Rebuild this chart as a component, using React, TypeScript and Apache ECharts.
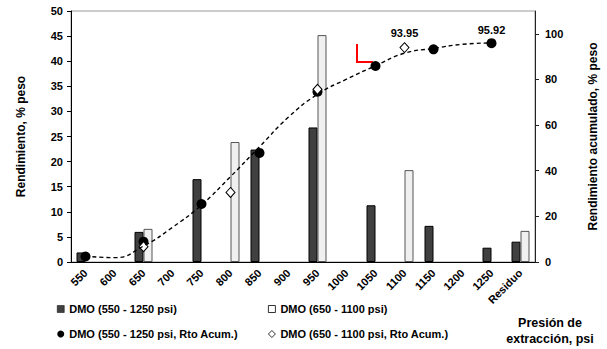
import { useEffect, useRef } from 'react';
import * as echarts from 'echarts';

const categories = ['550', '600', '650', '700', '750', '800', '850', '900', '950', '1000', '1050', '1100', '1150', '1200', '1250', 'Residuo'];
const darkYield = [1.9, null, 6.0, null, 16.5, null, 22.4, null, 26.8, null, 11.3, null, 7.2, null, 2.85, 4.05];
const lightYield = [null, null, 6.6, null, null, 23.9, null, null, 45.2, null, null, 18.3, null, null, null, 6.2];
const darkCum = [2.4, null, 8.9, null, 25.4, null, 47.8, null, 74.6, null, 85.9, null, 93.2, null, 95.92, null];
const lightCum = [null, null, 6.7, null, null, 30.5, null, null, 75.7, null, null, 93.95, null, null, null, null];
const trend = [2.6, 1.9, 7.0, 15.2, 25.0, 37.4, 50.5, 63.5, 73.5, 80.1, 86.0, 91.5, 93.6, 95.4, 96.0, null];
const darkLabelIndex = 14;
const lightLabelIndex = 11;

const names = {
  darkBar: 'DMO (550 - 1250 psi)',
  lightBar: 'DMO (650 - 1100 psi)',
  darkCum: 'DMO (550 - 1250 psi, Rto Acum.)',
  lightCum: 'DMO (650 - 1100 psi, Rto Acum.)',
};
const leftAxisName = 'Rendimiento, % peso';
const rightAxisName = 'Rendimiento acumulado, % peso';
const xAxisTitle = 'Presión de\nextracción, psi';

const FONT = 'Arial, "Liberation Sans", sans-serif';

export default function App() {
  const ref = useRef<HTMLDivElement>(null);
  useEffect(() => {
    if (!ref.current) return;
    const chart = echarts.init(ref.current, null, { renderer: 'svg' });
    const labelStyle = { show: true, position: 'top', distance: 3, formatter: '{c}', color: '#000', fontWeight: 'bold', fontSize: 11, fontFamily: FONT };
    const legendText = { color: '#000', fontWeight: 'bold', fontSize: 11, fontFamily: FONT, lineHeight: 14 };
    chart.setOption({
      animation: false,
      backgroundColor: '#fff',
      textStyle: { fontFamily: FONT },
      grid: { left: 71, right: 54, top: 11, bottom: 87, show: true, borderColor: '#999', borderWidth: 1, backgroundColor: 'transparent' },
      legend: [
        {
          orient: 'vertical', left: 57, top: 302, height: 45, padding: 0, itemWidth: 7, itemHeight: 7, itemGap: 11,
          textStyle: legendText,
          data: [
            { name: names.darkBar, icon: 'rect', itemStyle: { color: '#404040', borderColor: '#000', borderWidth: 0.5 } },
            { name: names.darkCum, icon: 'circle', itemStyle: { color: '#000' } },
          ],
        },
        {
          orient: 'vertical', left: 268, top: 302, height: 45, padding: 0, itemWidth: 7, itemHeight: 7, itemGap: 11,
          textStyle: legendText,
          data: [
            { name: names.lightBar, icon: 'rect', itemStyle: { color: '#fff', borderColor: '#000', borderWidth: 0.8 } },
            { name: names.lightCum, icon: 'diamond', itemStyle: { color: '#fff', borderColor: '#000', borderWidth: 0.8 } },
          ],
        },
      ],
      xAxis: {
        type: 'category',
        data: categories,
        boundaryGap: true,
        axisLine: { lineStyle: { color: '#000', width: 1 } },
        axisTick: { alignWithLabel: true, length: 4, lineStyle: { color: '#000' } },
        axisLabel: { rotate: 45, margin: 9, interval: 0, color: '#000', fontWeight: 'bold', fontSize: 11, fontFamily: FONT },
        splitLine: { show: false },
      },
      yAxis: [
        {
          type: 'value', min: 0, max: 50, interval: 5, position: 'left',
          name: leftAxisName, nameLocation: 'middle', nameRotate: 90, nameGap: 44,
          nameTextStyle: { color: '#000', fontWeight: 'bold', fontSize: 12, fontFamily: FONT },
          axisLine: { show: true, lineStyle: { color: '#000', width: 1 } },
          axisTick: { show: true, length: 4, lineStyle: { color: '#000' } },
          axisLabel: { color: '#000', fontWeight: 'bold', fontSize: 11, margin: 8, fontFamily: FONT },
          splitLine: { show: false },
        },
        {
          type: 'value', min: 0, max: 110, interval: 20, position: 'right',
          name: rightAxisName, nameLocation: 'middle', nameRotate: 90, nameGap: 52,
          nameTextStyle: { color: '#000', fontWeight: 'bold', fontSize: 12, fontFamily: FONT },
          axisLine: { show: true, lineStyle: { color: '#222', width: 1 } },
          axisTick: { show: true, length: 4, lineStyle: { color: '#222' } },
          axisLabel: { color: '#000', fontWeight: 'bold', fontSize: 11, margin: 10, showMaxLabel: false, fontFamily: FONT },
          splitLine: { show: false },
        },
      ],
      series: [
        {
          name: names.darkBar, type: 'bar', yAxisIndex: 0, data: darkYield,
          barWidth: 9, barGap: '0%',
          itemStyle: { color: '#404040', borderColor: '#000', borderWidth: 1 },
        },
        {
          name: names.lightBar, type: 'bar', yAxisIndex: 0, data: lightYield,
          barWidth: 9, barGap: '0%',
          itemStyle: { color: '#f0f0f0', borderColor: '#555', borderWidth: 1 },
        },
        {
          name: 'Tendencia', type: 'line', yAxisIndex: 1, data: trend,
          smooth: true, showSymbol: false, symbol: 'none', connectNulls: false,
          lineStyle: { color: '#000', width: 1.4, type: [4, 3] },
        },
        {
          name: names.darkCum, type: 'scatter', yAxisIndex: 1,
          data: darkCum.map((v, i) => (i === darkLabelIndex ? { value: v, label: labelStyle } : v)),
          symbol: 'circle', symbolSize: 10,
          itemStyle: { color: '#000', opacity: 1 },
        },
        {
          name: names.lightCum, type: 'scatter', yAxisIndex: 1,
          data: lightCum.map((v, i) => (i === lightLabelIndex ? { value: v, label: { ...labelStyle, distance: 4 } } : v)),
          symbol: 'diamond', symbolSize: [9, 10],
          itemStyle: { color: '#fff', borderColor: '#000', borderWidth: 1, opacity: 1 },
        },
      ],
      graphic: [
        {
          type: 'polyline',
          shape: { points: [[357, 44], [357, 62], [373, 62]] },
          style: { stroke: '#ff0000', lineWidth: 2, fill: 'none' },
        },
        {
          type: 'text', x: 550, y: 315,
          style: { text: xAxisTitle, fill: '#000', font: `bold 12.5px ${FONT}`, textAlign: 'center', lineHeight: 16 },
        },
      ],
    });
    return () => chart.dispose();
  }, []);
  return <div ref={ref} style={{ position: 'fixed', left: 0, top: 0, width: 607, height: 349 }} />;
}
